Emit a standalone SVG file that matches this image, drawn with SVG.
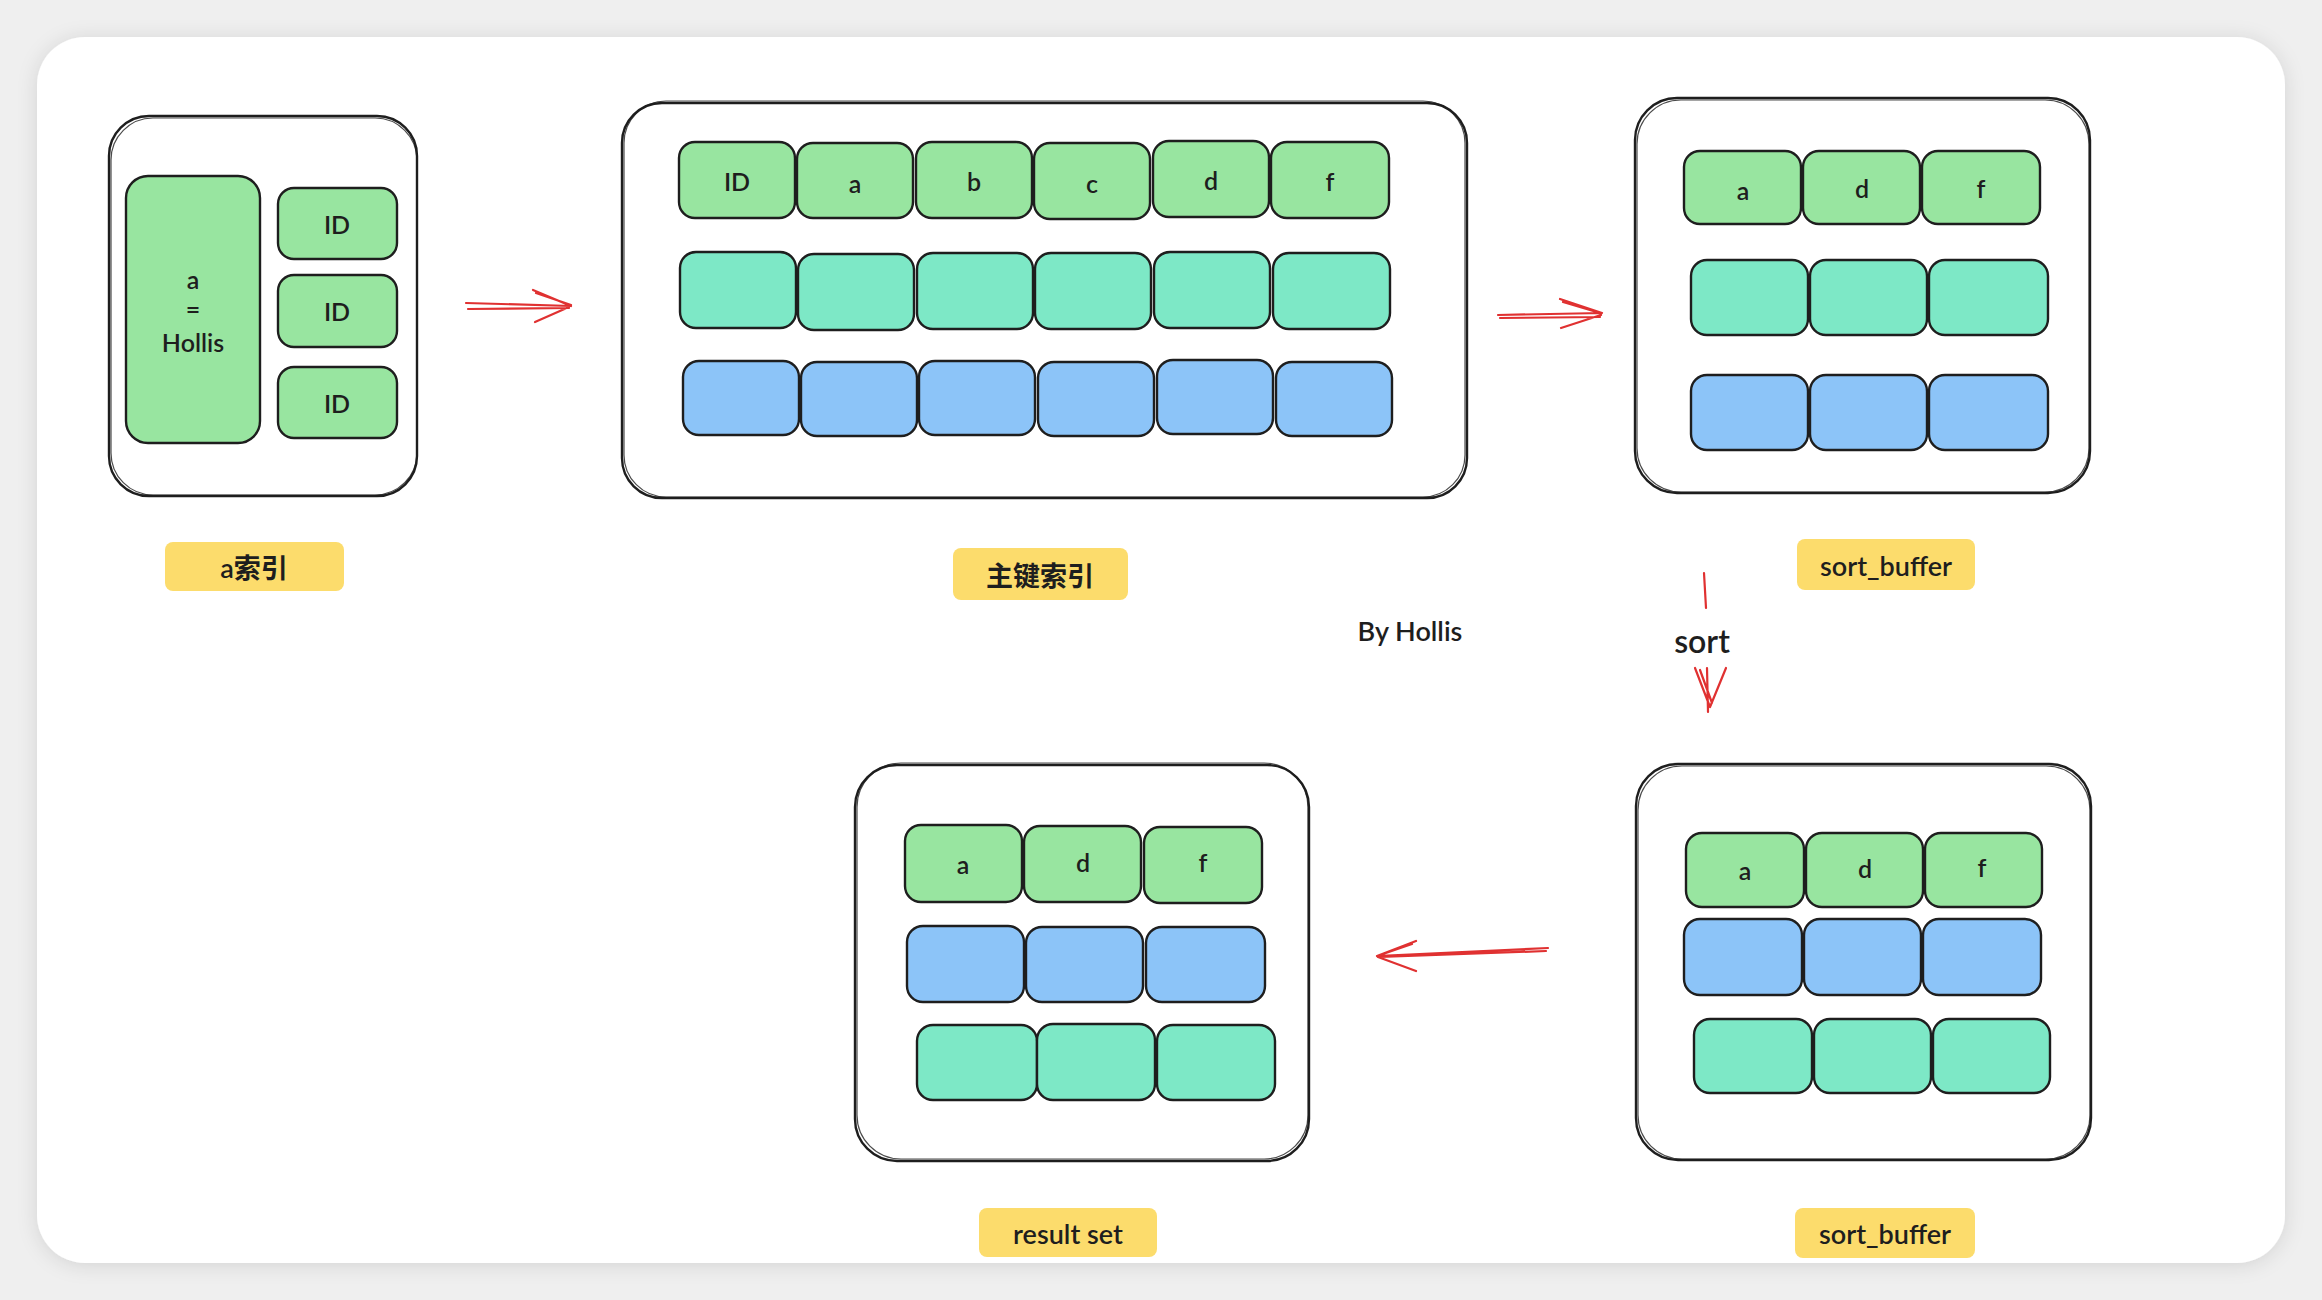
<svg xmlns="http://www.w3.org/2000/svg" width="2322" height="1300" viewBox="0 0 2322 1300">
<defs>
  <filter id="shadow" x="-5%" y="-5%" width="110%" height="110%">
    <feDropShadow dx="0" dy="2" stdDeviation="10" flood-color="#000" flood-opacity="0.12"/>
  </filter>
</defs>
<style>
  .frame{fill:#fff;stroke:#1e1e1e;stroke-width:2.4}
  .frame2{fill:none;stroke:#1e1e1e;stroke-width:1.2;opacity:.8}
  .c{stroke:#1e1e1e;stroke-width:2.4}
  .g{fill:#98e5a0}
  .t{fill:#7de8c6}
  .b{fill:#8cc4f8}
  .lbl{fill:#fcdc6c}
  .tx{font-family:"Lato","Noto Sans","Noto Sans CJK SC",sans-serif;font-size:25px;font-weight:600;fill:#1e1e1e;text-anchor:middle;dominant-baseline:central}
  .tl{font-family:"Lato","Noto Sans","Noto Sans CJK SC",sans-serif;font-size:27px;font-weight:600;fill:#1e1e1e;text-anchor:middle;dominant-baseline:central}
  .arr{fill:none;stroke:#e03131;stroke-width:2.2;stroke-linecap:round;stroke-linejoin:round}
</style>
<rect width="2322" height="1300" fill="#efefef"/>
<rect x="37" y="37" width="2248" height="1226" rx="48" fill="#fff" filter="url(#shadow)"/>

<g id="a-index">
  <rect class="frame" x="109" y="116" width="308" height="380" rx="40"/>
  <rect class="frame2" x="111" y="118" width="306" height="377" rx="42"/>
  <rect class="c g" x="126" y="176" width="134" height="267" rx="22"/>
  <text class="tx" x="193" y="279">a</text>
  <text class="tx" x="193" y="308">=</text>
  <text class="tx" x="193" y="342">Hollis</text>
  <rect class="c g" x="278" y="188" width="119" height="71" rx="16"/>
  <text class="tx" x="337" y="224">ID</text>
  <rect class="c g" x="278" y="275" width="119" height="72" rx="16"/>
  <text class="tx" x="337" y="311">ID</text>
  <rect class="c g" x="278" y="367" width="119" height="71" rx="16"/>
  <text class="tx" x="337" y="403">ID</text>
</g>
<g id="label-a-index">
  <rect class="lbl" x="165" y="542" width="179" height="49" rx="8"/>
  <text class="tl" x="254" y="567">a索引</text>
</g>

<g id="pk-index">
  <rect class="frame" x="622" y="103" width="845" height="395" rx="40"/>
  <rect class="frame2" x="624" y="101" width="841" height="396" rx="42"/>
  <g>
    <rect class="c g" x="679" y="142" width="116" height="76" rx="16"/>
    <rect class="c g" x="797" y="143" width="116" height="75" rx="16"/>
    <rect class="c g" x="916" y="142" width="116" height="76" rx="16"/>
    <rect class="c g" x="1034" y="143" width="116" height="76" rx="16"/>
    <rect class="c g" x="1153" y="141" width="116" height="76" rx="16"/>
    <rect class="c g" x="1271" y="142" width="118" height="76" rx="16"/>
    <text class="tx" x="737" y="181">ID</text>
    <text class="tx" x="855" y="183">a</text>
    <text class="tx" x="974" y="181">b</text>
    <text class="tx" x="1092" y="183">c</text>
    <text class="tx" x="1211" y="180">d</text>
    <text class="tx" x="1330" y="181">f</text>
  </g>
  <g>
    <rect class="c t" x="680" y="252" width="116" height="76" rx="16"/>
    <rect class="c t" x="798" y="254" width="116" height="76" rx="16"/>
    <rect class="c t" x="917" y="253" width="116" height="76" rx="16"/>
    <rect class="c t" x="1035" y="253" width="116" height="76" rx="16"/>
    <rect class="c t" x="1154" y="252" width="116" height="76" rx="16"/>
    <rect class="c t" x="1273" y="253" width="117" height="76" rx="16"/>
  </g>
  <g>
    <rect class="c b" x="683" y="361" width="116" height="74" rx="16"/>
    <rect class="c b" x="801" y="362" width="116" height="74" rx="16"/>
    <rect class="c b" x="919" y="361" width="116" height="74" rx="16"/>
    <rect class="c b" x="1038" y="362" width="116" height="74" rx="16"/>
    <rect class="c b" x="1157" y="360" width="116" height="74" rx="16"/>
    <rect class="c b" x="1276" y="362" width="116" height="74" rx="16"/>
  </g>
</g>
<g id="label-pk-index">
  <rect class="lbl" x="953" y="548" width="175" height="52" rx="8"/>
  <text class="tl" x="1040" y="575">主键索引</text>
</g>

<g id="sort-buffer-1">
  <rect class="frame" x="1635" y="98" width="455" height="395" rx="42"/>
  <rect class="frame2" x="1637" y="100" width="452" height="392" rx="44"/>
  <rect class="c g" x="1684" y="151" width="117" height="73" rx="16"/>
  <rect class="c g" x="1803" y="151" width="117" height="73" rx="16"/>
  <rect class="c g" x="1922" y="151" width="118" height="73" rx="16"/>
  <text class="tx" x="1743" y="190">a</text>
  <text class="tx" x="1862" y="188">d</text>
  <text class="tx" x="1981" y="188">f</text>
  <rect class="c t" x="1691" y="260" width="117" height="75" rx="16"/>
  <rect class="c t" x="1810" y="260" width="117" height="75" rx="16"/>
  <rect class="c t" x="1929" y="260" width="119" height="75" rx="16"/>
  <rect class="c b" x="1691" y="375" width="117" height="75" rx="16"/>
  <rect class="c b" x="1810" y="375" width="117" height="75" rx="16"/>
  <rect class="c b" x="1929" y="375" width="119" height="75" rx="16"/>
</g>
<g id="label-sort-buffer-1">
  <rect class="lbl" x="1797" y="539" width="178" height="51" rx="8"/>
  <text class="tl" x="1886" y="565">sort_buffer</text>
</g>

<g id="sort-buffer-2">
  <rect class="frame" x="1636" y="764" width="455" height="396" rx="42"/>
  <rect class="frame2" x="1638" y="766" width="452" height="393" rx="44"/>
  <rect class="c g" x="1686" y="833" width="118" height="74" rx="16"/>
  <rect class="c g" x="1806" y="833" width="117" height="74" rx="16"/>
  <rect class="c g" x="1925" y="833" width="117" height="74" rx="16"/>
  <text class="tx" x="1745" y="870">a</text>
  <text class="tx" x="1865" y="868">d</text>
  <text class="tx" x="1982" y="867">f</text>
  <rect class="c b" x="1684" y="919" width="118" height="76" rx="16"/>
  <rect class="c b" x="1804" y="919" width="117" height="76" rx="16"/>
  <rect class="c b" x="1923" y="919" width="118" height="76" rx="16"/>
  <rect class="c t" x="1694" y="1019" width="118" height="74" rx="16"/>
  <rect class="c t" x="1814" y="1019" width="117" height="74" rx="16"/>
  <rect class="c t" x="1933" y="1019" width="117" height="74" rx="16"/>
</g>
<g id="label-sort-buffer-2">
  <rect class="lbl" x="1795" y="1208" width="180" height="50" rx="8"/>
  <text class="tl" x="1885" y="1233">sort_buffer</text>
</g>

<g id="result-set">
  <rect class="frame" x="855" y="765" width="454" height="396" rx="42"/>
  <rect class="frame2" x="857" y="763" width="451" height="396" rx="44"/>
  <rect class="c g" x="905" y="825" width="117" height="77" rx="16"/>
  <rect class="c g" x="1024" y="826" width="117" height="76" rx="16"/>
  <rect class="c g" x="1144" y="827" width="118" height="76" rx="16"/>
  <text class="tx" x="963" y="864">a</text>
  <text class="tx" x="1083" y="862">d</text>
  <text class="tx" x="1203" y="862">f</text>
  <rect class="c b" x="907" y="926" width="117" height="76" rx="16"/>
  <rect class="c b" x="1026" y="927" width="117" height="75" rx="16"/>
  <rect class="c b" x="1146" y="927" width="119" height="75" rx="16"/>
  <rect class="c t" x="917" y="1025" width="120" height="75" rx="16"/>
  <rect class="c t" x="1037" y="1024" width="118" height="76" rx="16"/>
  <rect class="c t" x="1157" y="1025" width="118" height="75" rx="16"/>
</g>
<g id="label-result-set">
  <rect class="lbl" x="979" y="1208" width="178" height="49" rx="8"/>
  <text class="tl" x="1068" y="1233">result set</text>
</g>

<g id="watermark">
  <text class="tl" x="1410" y="630">By Hollis</text>
</g>

<g id="connectors">
  <path class="arr" d="M466 303 L571 306 M468 309 L569 308 M571 306 L533 290 M569 307 L535 322 M571 305 L536 293"/>
  <path class="arr" d="M1498 315 L1602 313 M1500 318 L1600 317 M1602 313 L1560 299 M1601 315 L1561 328 M1600 313 L1563 302"/>
  <path class="arr" d="M1704 573 L1706 608 M1707 668 L1708 712 M1695 668 L1710 707 M1726 668 L1710 707 M1700 670 L1712 703"/>
  <text class="tl" x="1702" y="640" style="font-size:32px">sort</text>
  <path class="arr" d="M1548 948 L1377 956 M1546 951 L1380 957 M1377 956 L1416 941 M1378 957 L1416 971 M1380 955 L1412 944"/>
</g>
</svg>
